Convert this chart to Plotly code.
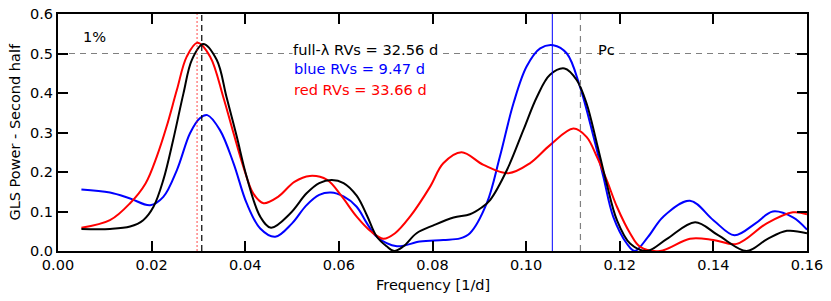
import plotly.graph_objects as go

# ---- data ----
black_f = [0.005, 0.0111, 0.0154, 0.0182, 0.0204, 0.0225, 0.0246, 0.0268, 0.0286, 0.031, 0.0339, 0.036,
           0.0382, 0.0403, 0.0432, 0.0455, 0.0496, 0.0531, 0.0558, 0.0585, 0.061, 0.0638, 0.066,
           0.0681, 0.0702, 0.0718, 0.0738, 0.0766, 0.0802, 0.0845, 0.088, 0.0905, 0.0923, 0.0959, 0.0994,
           0.1023, 0.1051, 0.1082, 0.1108, 0.1129, 0.1151, 0.1172, 0.1194, 0.1222, 0.1258, 0.130, 0.1361,
           0.141, 0.1471, 0.1515, 0.1557, 0.160]
black_p = [0.056, 0.056, 0.062, 0.078, 0.112, 0.18, 0.281, 0.399, 0.484, 0.524, 0.484, 0.39,
           0.289, 0.188, 0.087, 0.059, 0.095, 0.146, 0.172, 0.18, 0.172, 0.14, 0.09,
           0.036, 0.012, 0.0, 0.012, 0.045, 0.065, 0.085, 0.093, 0.11, 0.129, 0.205, 0.306,
           0.39, 0.446, 0.462, 0.433, 0.374, 0.273, 0.171, 0.078, 0.019, 0.0, 0.03, 0.073,
           0.04, 0.0, 0.03, 0.051, 0.045]

blue_f = [0.005, 0.0111, 0.0154, 0.0197, 0.0225, 0.0254, 0.0282, 0.0303, 0.0319, 0.0346, 0.0375, 0.0403,
          0.0432, 0.0464, 0.050, 0.053, 0.0558, 0.0583, 0.061, 0.0638, 0.066, 0.0681, 0.0724, 0.0773,
          0.0823, 0.0859, 0.088, 0.0916, 0.0944, 0.0973, 0.1001, 0.103, 0.1058, 0.1087, 0.1115, 0.1144,
          0.1165, 0.1186, 0.1215, 0.1232, 0.126, 0.1293, 0.135, 0.14, 0.1445, 0.149, 0.1527, 0.157, 0.160]
blue_p = [0.156, 0.148, 0.133, 0.116, 0.137, 0.205, 0.298, 0.336, 0.344, 0.306, 0.222, 0.121,
          0.057, 0.036, 0.07, 0.115, 0.142, 0.148, 0.138, 0.112, 0.07, 0.036, 0.012, 0.024,
          0.028, 0.032, 0.045, 0.121, 0.239, 0.374, 0.467, 0.513, 0.521, 0.50, 0.416, 0.289,
          0.188, 0.087, 0.019, 0.0, 0.035, 0.087, 0.127, 0.078, 0.04, 0.07, 0.10, 0.085, 0.054]

red_f = [0.005, 0.0111, 0.0154, 0.0187, 0.0211, 0.0232, 0.0254, 0.0275, 0.0298, 0.0325, 0.0353, 0.0375,
         0.0396, 0.0417, 0.0439, 0.047, 0.0505, 0.0538, 0.0575, 0.0605, 0.0638, 0.0668, 0.0695, 0.072,
         0.0752, 0.0795, 0.0823, 0.0862, 0.0909, 0.0962, 0.1008, 0.1051, 0.1101, 0.1129, 0.1151, 0.1172,
         0.1194, 0.1222, 0.1243, 0.1286, 0.135, 0.14, 0.145, 0.1514, 0.157, 0.160]
red_p = [0.059, 0.078, 0.121, 0.171, 0.239, 0.315, 0.408, 0.492, 0.527, 0.492, 0.39, 0.298,
         0.213, 0.146, 0.121, 0.137, 0.175, 0.19, 0.18, 0.14, 0.087, 0.05, 0.031, 0.045,
         0.087, 0.163, 0.222, 0.25, 0.218, 0.197, 0.222, 0.268, 0.31, 0.289, 0.239, 0.18,
         0.112, 0.045, 0.011, 0.0, 0.031, 0.028, 0.018, 0.07, 0.098, 0.093]

period_full = 32.56
period_blue = 9.47
period_red = 33.66
f_pc = 0.1116
fap_1pct = 0.5

x_ticks = [0.00, 0.02, 0.04, 0.06, 0.08, 0.10, 0.12, 0.14, 0.16]
y_ticks = [0.0, 0.1, 0.2, 0.3, 0.4, 0.5, 0.6]

FONT = "DejaVu Sans"

fig = go.Figure()

# reference lines
fig.add_shape(type="line", xref="x", yref="y", x0=0, x1=0.16, y0=fap_1pct, y1=fap_1pct,
              line=dict(color="#808080", width=1.2, dash="6px,5px"), layer="below")
fig.add_shape(type="line", xref="x", yref="y", x0=1 / period_red, x1=1 / period_red, y0=0, y1=0.6,
              line=dict(color="rgba(255,0,0,0.6)", width=1.2, dash="2px,2px"))
fig.add_shape(type="line", xref="x", yref="y", x0=1 / period_full, x1=1 / period_full, y0=0, y1=0.6,
              line=dict(color="black", width=1.2, dash="6px,4px"))
fig.add_shape(type="line", xref="x", yref="y", x0=1 / period_blue, x1=1 / period_blue, y0=0, y1=0.6,
              line=dict(color="blue", width=1))
fig.add_shape(type="line", xref="x", yref="y", x0=f_pc, x1=f_pc, y0=0, y1=0.6,
              line=dict(color="#808080", width=1.2, dash="6px,5px"))

for fx, py, col in [(blue_f, blue_p, "blue"), (red_f, red_p, "red"), (black_f, black_p, "black")]:
    fig.add_trace(go.Scatter(x=fx, y=py, mode="lines",
                             line=dict(color=col, width=2, shape="spline", smoothing=1.0),
                             showlegend=False, hoverinfo="skip", cliponaxis=True))

fs = 14.6
fig.add_annotation(x=0.005, y=0.542, xref="x", yref="y", text="1%", showarrow=False, xanchor="left",
                   font=dict(family=FONT, size=fs, color="black"))
fig.add_annotation(x=0.0499, y=0.511, xref="x", yref="y", text=f"full-λ RVs = {period_full:.2f} d", showarrow=False,
                   xanchor="left", bgcolor="white", borderpad=0, font=dict(family=FONT, size=fs, color="black"))
fig.add_annotation(x=0.0499, y=0.462, xref="x", yref="y", text=f"blue RVs = {period_blue:.2f} d", showarrow=False,
                   xanchor="left", font=dict(family=FONT, size=fs, color="blue"))
fig.add_annotation(x=0.0499, y=0.41, xref="x", yref="y", text=f"red RVs = {period_red:.2f} d", showarrow=False,
                   xanchor="left", font=dict(family=FONT, size=fs, color="red"))
fig.add_annotation(x=0.115, y=0.511, xref="x", yref="y", text="Pc", showarrow=False, xanchor="left",
                   font=dict(family=FONT, size=fs, color="black"))

# axis titles placed as annotations
fig.add_annotation(x=0.5, y=-0.1435, xref="paper", yref="paper", text="Frequency [1/d]", showarrow=False,
                   xanchor="center", yanchor="middle", font=dict(family=FONT, size=14.5, color="black"))
fig.add_annotation(x=-0.0587, y=0.5, xref="paper", yref="paper", text="GLS Power - Second half", showarrow=False,
                   textangle=-90, xanchor="center", yanchor="middle", font=dict(family=FONT, size=14.5, color="black"))

axis_common = dict(showline=True, linecolor="black", linewidth=2, mirror="ticks", ticks="inside",
                   ticklen=10, tickwidth=2, tickcolor="black", showgrid=False, zeroline=False,
                   automargin=False, tickfont=dict(family=FONT, size=14.5, color="black"))
fig.update_xaxes(range=[0, 0.16], tickvals=x_ticks, ticktext=[f"{v:.2f}" for v in x_ticks], **axis_common)
fig.update_yaxes(range=[0, 0.6], tickvals=y_ticks, ticktext=[f"{v:.1f}" for v in y_ticks], **axis_common)

fig.update_layout(width=831, height=301, margin=dict(l=58, r=24, t=14, b=50),
                  plot_bgcolor="white", paper_bgcolor="white")

fig.write_html("out.html", post_script="document.body.style.margin='0';",
               config={"displayModeBar": False})
